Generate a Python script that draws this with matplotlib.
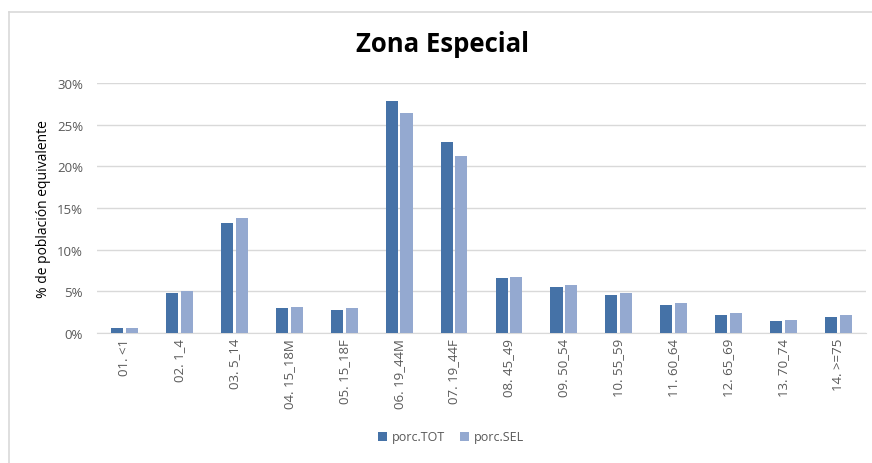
import matplotlib.pyplot as plt
from matplotlib.lines import Line2D
from matplotlib.ticker import PercentFormatter
import numpy as np

categories = ['01. <1', '02. 1_4', '03. 5_14', '04. 15_18M', '05. 15_18F',
              '06. 19_44M', '07. 19_44F', '08. 45_49', '09. 50_54', '10. 55_59',
              '11. 60_64', '12. 65_69', '13. 70_74', '14. >=75']
porc_tot = [0.6, 4.84, 13.24, 2.96, 2.76, 27.9, 22.9, 6.6, 5.52, 4.56, 3.36, 2.16, 1.4, 1.92]
porc_sel = [0.6, 5.08, 13.8, 3.12, 3.04, 26.4, 21.3, 6.72, 5.72, 4.84, 3.64, 2.4, 1.6, 2.2]

plt.rcParams['font.family'] = ['Open Sans', 'DejaVu Sans']

fig = plt.figure(figsize=(8.72, 4.64), dpi=100)
ax = fig.add_axes([97 / 872, 1 - 334 / 464, (866 - 97) / 872, (334 - 84) / 464])

x = np.arange(len(categories))
w = 0.22
ax.bar(x - 0.135, porc_tot, w, color='#4572A7', label='porc.TOT', zorder=3)
ax.bar(x + 0.135, porc_sel, w, color='#94A9D0', label='porc.SEL', zorder=3)

ax.set_xlim(-0.5, len(categories) - 0.5)
ax.set_ylim(0, 30)
ax.set_yticks(np.arange(0, 31, 5))
ax.yaxis.set_major_formatter(PercentFormatter(decimals=0))
ax.grid(axis='y', color='#D9D9D9', linewidth=1, zorder=0)
for s in ['top', 'right', 'left']:
    ax.spines[s].set_visible(False)
ax.spines['bottom'].set_color('#D9D9D9')
ax.tick_params(length=0, colors='#595959', labelsize=9.5)
ax.tick_params(axis='y', pad=10)
ax.set_xticks(x)
ax.set_xticklabels(categories, rotation=90)
ax.set_ylabel('% de población equivalente', fontsize=10, color='#000000', labelpad=4)

fig.text(0.508, 1 - 45 / 464, 'Zona Especial', ha='center', va='center',
         fontsize=18.5, fontweight='bold')

fig.legend(*ax.get_legend_handles_labels(), loc='center',
           bbox_to_anchor=(451 / 872, 1 - 438 / 464), ncol=2, frameon=False,
           fontsize=9, handlelength=0.7, handleheight=0.7, columnspacing=1.2,
           handletextpad=0.4, labelcolor='#595959')

# chart frame
fig.add_artist(Line2D([9 / 872, 9 / 872], [0, 1 - 13 / 464], color='#D9D9D9', lw=1.2))
fig.add_artist(Line2D([9 / 872, 1], [1 - 13 / 464, 1 - 13 / 464], color='#D9D9D9', lw=1.2))

fig.savefig('out.png', dpi=100)
